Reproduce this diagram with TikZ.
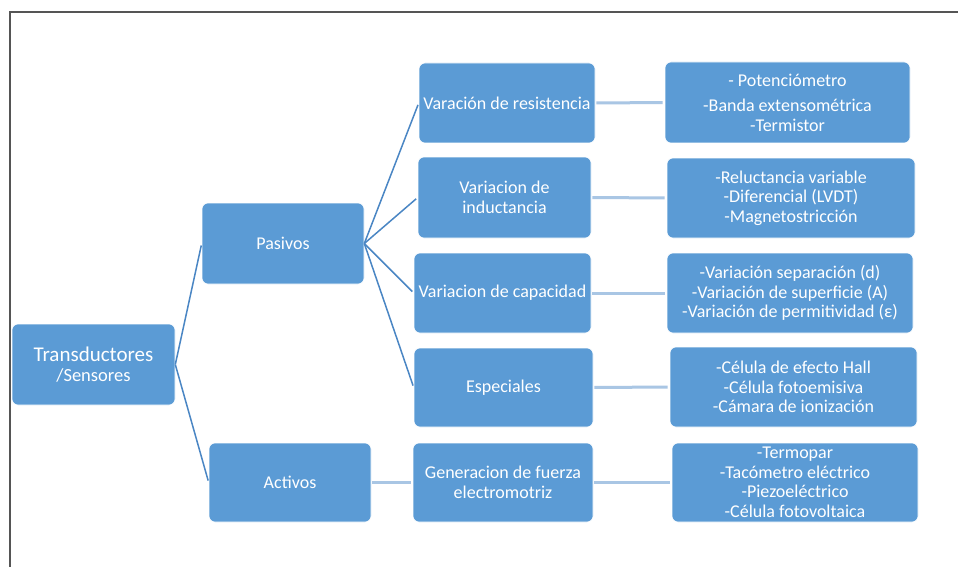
\documentclass[tikz,border=0pt]{standalone}
\usepackage{fontspec}
\setmainfont{Carlito}
\definecolor{boxblue}{HTML}{5B9BD5}
\definecolor{diagblue}{HTML}{4A86C4}
\definecolor{lightblue}{HTML}{A9C6E4}
\definecolor{framegray}{HTML}{555555}
\begin{document}
\begin{tikzpicture}[x=1pt,y=-1pt,
  box/.style={fill=boxblue,draw=white,line width=0.6pt,rounded corners=6pt,inner sep=0pt,
    text=white,align=center,font=\fontsize{18}{19.5}\selectfont},
  diag/.style={draw=diagblue,line width=1.5pt,shorten >=2pt},
  horiz/.style={draw=lightblue,line width=3pt,shorten >=2pt,shorten <=1pt}]
\useasboundingbox (0,0) rectangle (958,567);
\fill[white] (0,0) rectangle (958,567);
\draw[framegray,line width=1.5pt] (958,12) -- (10,12) -- (10,567);
% level 0
\node[box,minimum width=163pt,minimum height=81pt] (T) at (93.5,364.5)
  {{\fontsize{21}{21}\selectfont Transductores}\\[1pt]{\fontsize{18.5}{18.5}\selectfont /Sensores}};
% level 1
\node[box,minimum width=162pt,minimum height=81pt] (P) at (283,243.5) {Pasivos};
\node[box,minimum width=162pt,minimum height=79pt] (A) at (290,482.5) {Activos};
% level 2
\node[box,minimum width=176pt,minimum height=80pt] (R1) at (507,103) {Varación de resistencia};
\node[box,minimum width=173pt,minimum height=81pt] (R2) at (504.5,197.5) {Variacion de\\inductancia};
\node[box,minimum width=177pt,minimum height=80pt] (R3) at (502.5,293) {Variacion de capacidad};
\node[box,minimum width=179pt,minimum height=79pt] (R4) at (503.5,387.5) {Especiales};
\node[box,minimum width=180pt,minimum height=79pt] (R5) at (503,482.5) {Generacion de fuerza\\electromotriz};
% level 3
\node[box,minimum width=245pt,minimum height=81pt] (L1) at (787.5,102.5)
  {- Potenciómetro\\[6pt]-Banda extensométrica\\-Termistor};
\node[box,minimum width=248pt,minimum height=80pt] (L2) at (791,198)
  {-Reluctancia variable\\-Diferencial (LVDT)\\-Magnetostricción};
\node[box,minimum width=246pt,minimum height=80pt] (L3) at (790,293)
  {-Variación separación (d)\\-Variación de superficie (A)\\-Variación de permitividad (ε)};
\node[box,minimum width=247pt,minimum height=80pt] (L4) at (793.5,387)
  {-Célula de efecto Hall\\-Célula fotoemisiva\\-Cámara de ionización};
\node[box,minimum width=246pt,minimum height=79pt] (L5) at (795,482.5)
  {-Termopar\\-Tacómetro eléctrico\\-Piezoeléctrico\\-Célula fotovoltaica};
% connectors
\draw[diag] (T.east) -- (P.west);
\draw[diag] (T.east) -- (A.west);
\draw[diag] (P.east) -- (R1.west);
\draw[diag] (P.east) -- (R2.west);
\draw[diag] (P.east) -- (R3.west);
\draw[diag] (P.east) -- (R4.west);
\draw[horiz] (A.east) -- (R5.west);
\draw[horiz] (R1.east) -- (L1.west);
\draw[horiz] (R2.east) -- (L2.west);
\draw[horiz] (R3.east) -- (L3.west);
\draw[horiz] (R4.east) -- (L4.west);
\draw[horiz] (R5.east) -- (L5.west);
\end{tikzpicture}
\end{document}
